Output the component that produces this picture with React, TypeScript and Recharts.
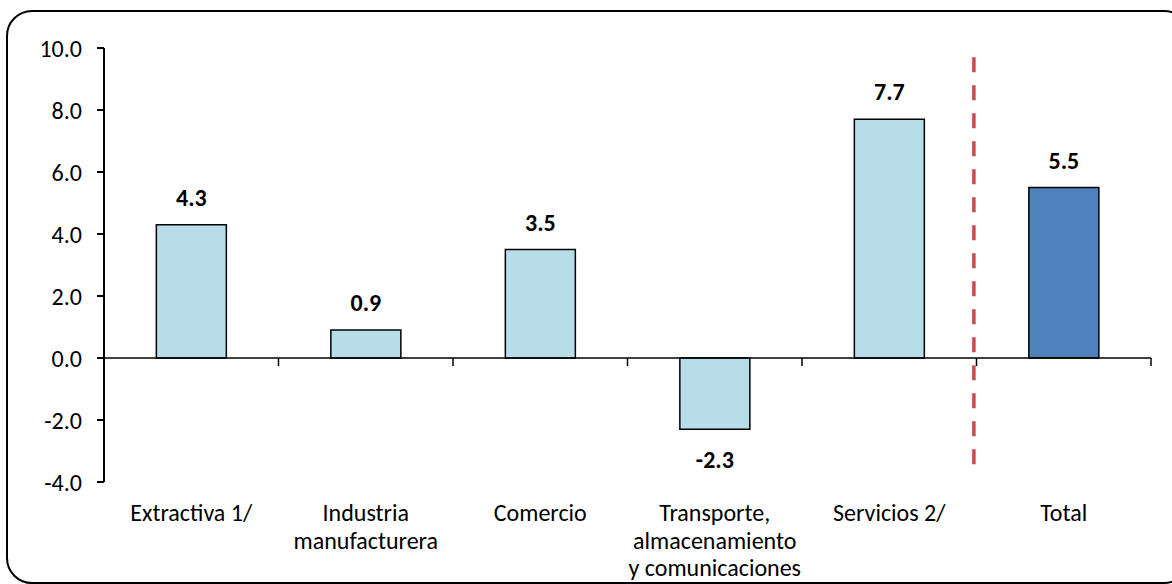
import React from 'react';
import {
  ComposedChart,
  Bar,
  Cell,
  XAxis,
  YAxis,
  ReferenceLine,
  LabelList,
} from 'recharts';

// sectores y variación (%)
const categories = [
  'Extractiva 1/',
  'Industria\nmanufacturera',
  'Comercio',
  'Transporte,\nalmacenamiento\ny comunicaciones',
  'Servicios 2/',
  'Total',
];
const values = [4.3, 0.9, 3.5, -2.3, 7.7, 5.5];
const yTicks = [-4, -2, 0, 2, 4, 6, 8, 10];
const boundaries = [1, 2, 3, 4, 5, 6];

const LIGHT = '#B7DEE8';
const DARK = '#4F81BD';
const FONT = 'Carlito, Calibri, Lato, sans-serif';

const data = categories.map((name, i) => ({ name, value: values[i], idx: i + 0.5 }));

function CategoryTick({ x, payload }: any) {
  const lines = String(payload.value).split('\n');
  return (
    <text x={x} y={521} textAnchor="middle" fontFamily={FONT} fontSize={24} fill="#000">
      {lines.map((l: string, i: number) => (
        <tspan key={i} x={x} dy={i === 0 ? 0 : 27.5}>
          {l}
        </tspan>
      ))}
    </text>
  );
}

function ValueLabel({ x, y, width, height, value }: any) {
  const top = Math.min(y, y + height);
  const bottom = Math.max(y, y + height);
  const ty = value >= 0 ? top - 19 : bottom + 39;
  return (
    <text
      x={x + width / 2}
      y={ty}
      textAnchor="middle"
      fontFamily={FONT}
      fontSize={24}
      fontWeight="bold"
      fill="#000"
    >
      {Number(value).toFixed(1)}
    </text>
  );
}

export default function App() {
  return (
    <div style={{ position: 'absolute', left: 0, top: 0, width: 1172, height: 584, overflow: 'hidden', background: '#fff' }}>
      <div
        style={{
          position: 'absolute',
          left: 6,
          top: 10,
          width: 1180,
          height: 570,
          border: '2px solid #000',
          borderRadius: 26,
        }}
      />
      <div style={{ position: 'absolute', left: 0, top: 0 }}>
        <ComposedChart
          width={1172}
          height={584}
          data={data}
          margin={{ top: 48, right: 21, bottom: 0, left: 0 }}
          barCategoryGap="30%"
        >
          <XAxis
            dataKey="name"
            axisLine={false}
            tickLine={false}
            height={102}
            interval={0}
            tick={<CategoryTick />}
          />
          <XAxis
            xAxisId="n"
            dataKey="idx"
            type="number"
            domain={[0, 6]}
            allowDataOverflow
            hide
          />
          <YAxis
            domain={[-4, 10]}
            ticks={yTicks}
            width={104}
            interval={0}
            tickSize={7}
            tickMargin={15}
            axisLine={{ stroke: '#000', strokeWidth: 2 }}
            tickLine={{ stroke: '#000', strokeWidth: 2 }}
            tickFormatter={(v: number) => v.toFixed(1)}
            tick={{ fontFamily: FONT, fontSize: 24, fill: '#000' }}
          />
          <Bar dataKey="value" stroke="#000" strokeWidth={1.5} isAnimationActive={false}>
            {data.map((d, i) => (
              <Cell key={i} fill={d.name === 'Total' ? DARK : LIGHT} />
            ))}
            <LabelList dataKey="value" content={<ValueLabel />} />
          </Bar>
          <ReferenceLine y={0} stroke="#000" strokeWidth={1.5} />
          {boundaries.map((b) => (
            <ReferenceLine
              key={b}
              xAxisId="n"
              segment={[
                { x: b, y: 0 },
                { x: b, y: -0.26 },
              ]}
              stroke="#000"
              strokeWidth={1.5}
              ifOverflow="visible"
            />
          ))}
          <ReferenceLine
            xAxisId="n"
            segment={[
              { x: 4.985, y: 9.7 },
              { x: 4.985, y: -3.45 },
            ]}
            stroke="#C0504D"
            strokeWidth={3.5}
            strokeDasharray="15 13"
            ifOverflow="visible"
          />
        </ComposedChart>
      </div>
    </div>
  );
}
